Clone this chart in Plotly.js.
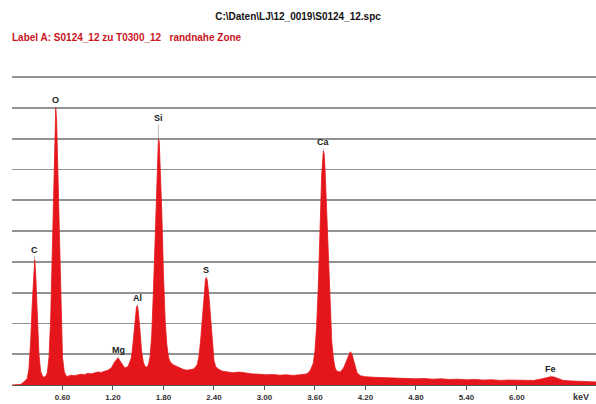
<!DOCTYPE html>
<html>
<head>
<meta charset="utf-8">
<script src="https://cdn.plot.ly/plotly-3.0.1.min.js"></script>
<style>html,body{margin:0;padding:0;background:#fff;}#chart{width:596px;height:404px;}</style>
</head>
<body>
<div id="chart"></div>
<script>
// Spectrum (energy in keV, counts in grid units)
const energyKeV = [0.00,0.05,0.10,0.12,0.15,0.18,0.20,0.22,0.24,0.26,0.27,0.28,0.30,0.32,0.34,0.36,0.38,0.40,
  0.42,0.44,0.46,0.48,0.50,0.52,0.53,0.54,0.56,0.58,0.60,0.62,0.64,0.66,0.70,0.74,0.78,0.82,0.86,0.90,0.94,0.98,
  1.02,1.06,1.10,1.14,1.18,1.22,1.26,1.30,1.34,1.38,1.42,1.44,1.46,1.48,1.49,1.50,1.52,1.54,1.56,1.58,1.60,1.62,
  1.64,1.66,1.68,1.70,1.72,1.74,1.75,1.76,1.78,1.80,1.82,1.84,1.86,1.88,1.92,1.96,2.00,2.04,2.08,2.12,2.16,2.20,
  2.22,2.24,2.26,2.28,2.30,2.31,2.32,2.34,2.36,2.38,2.40,2.42,2.46,2.50,2.56,2.62,2.70,2.78,2.86,2.94,3.02,3.10,
  3.18,3.26,3.34,3.42,3.50,3.54,3.58,3.60,3.62,3.64,3.66,3.68,3.70,3.71,3.72,3.74,3.76,3.78,3.80,3.82,3.84,3.86,
  3.90,3.94,3.97,4.00,4.02,4.04,4.06,4.08,4.10,4.14,4.20,4.30,4.40,4.50,4.60,4.70,4.80,4.90,5.00,5.10,5.20,5.30,
  5.40,5.50,5.60,5.70,5.80,5.90,6.00,6.10,6.20,6.30,6.36,6.40,6.44,6.48,6.55,6.65,6.75,6.85,6.94];
const counts = [0.00,0.00,0.02,0.05,0.12,0.20,0.50,1.30,2.60,3.80,4.07,3.70,2.30,1.00,0.45,0.30,0.25,0.28,
  0.40,0.90,2.20,4.50,7.20,9.00,8.60,7.50,4.80,2.20,0.90,0.45,0.30,0.28,0.32,0.30,0.33,0.35,0.33,0.38,0.36,0.40,
  0.42,0.41,0.45,0.48,0.55,0.75,0.88,0.70,0.55,0.60,0.90,1.40,2.10,2.55,2.57,2.40,1.80,1.10,0.75,0.60,0.58,0.65,
  0.90,1.60,3.00,4.80,6.60,7.98,7.90,7.30,5.60,3.60,2.10,1.30,0.90,0.75,0.65,0.60,0.55,0.50,0.48,0.50,0.52,0.65,
  0.90,1.40,2.20,3.00,3.45,3.48,3.40,2.90,2.10,1.30,0.80,0.60,0.50,0.45,0.43,0.40,0.42,0.38,0.36,0.35,0.33,0.34,
  0.32,0.33,0.31,0.33,0.36,0.45,0.70,1.10,1.90,3.20,5.00,6.80,7.60,7.50,7.00,5.60,3.90,2.40,1.40,0.85,0.55,0.45,
  0.42,0.55,0.75,1.00,1.08,1.00,0.80,0.55,0.40,0.30,0.27,0.25,0.24,0.22,0.23,0.21,0.20,0.21,0.19,0.20,0.18,0.19,
  0.17,0.18,0.16,0.17,0.15,0.16,0.15,0.14,0.15,0.20,0.24,0.27,0.26,0.22,0.15,0.13,0.12,0.11,0.10];

// Peak labels
const elements = ['C','O','Mg','Al','Si','S','Ca','Fe'];
const elementKeV = [0.27,0.52,1.26,1.49,1.74,2.31,3.70,6.40];
const elementCounts = [4.07,9.00,0.88,2.57,7.98,3.48,7.60,0.27];
const labelOffsetPx = [-10,-8,-8,-8,-21,-8,-9,-8];

// Axis ticks
const tickValues = [0.6,1.2,1.8,2.4,3.0,3.6,4.2,4.8,5.4,6.0];
const tickLabels = ['0.60','1.20','1.80','2.40','3.00','3.60','4.20','4.80','5.40','6.00'];
const gridValues = [1,2,3,4,5,6,7,8,9,10];

const FONT = 'Liberation Sans Narrow, Arial Narrow, Liberation Sans, Arial, sans-serif';

const trace = {
  x: energyKeV, y: counts, type: 'scatter', mode: 'lines',
  line: {color: '#e5161b', width: 0.8, shape: 'linear'},
  fill: 'tozeroy', fillcolor: '#e5161b', hoverinfo: 'skip'
};

const annotations = elements.map((el, i) => ({
  x: elementKeV[i], y: elementCounts[i], xref: 'x', yref: 'y',
  text: '<b>' + el + '</b>', showarrow: true, arrowhead: 0, arrowwidth: 0.6, arrowcolor: '#888',
  ax: 0, ay: labelOffsetPx[i], font: {family: FONT, size: 9, color: '#222'}
}));
annotations.push({
  xref: 'paper', yref: 'paper', x: -0.003, y: 1.117, xanchor: 'left', yanchor: 'middle',
  text: '<b>Label A: S0124_12 zu T0300_12\u00a0\u00a0\u00a0randnahe Zone</b>', showarrow: false,
  font: {family: FONT, size: 10, color: '#c8141c'}
});
annotations.push({
  xref: 'paper', yref: 'paper', x: 0.974, y: 0, yshift: -12, xanchor: 'center', yanchor: 'middle',
  text: '<b>keV</b>', showarrow: false, font: {family: FONT, size: 9, color: '#333'}
});

const layout = {
  width: 596, height: 404,
  margin: {l: 12, r: 0, t: 74, b: 19, pad: 0},
  paper_bgcolor: '#fff', plot_bgcolor: '#fff',
  showlegend: false,
  title: {
    text: '<b>C:\\Daten\\LJ\\12_0019\\S0124_12.spc</b>',
    xref: 'container', yref: 'container', x: 0.5, y: 0.958, xanchor: 'center', yanchor: 'middle',
    font: {family: FONT, size: 10, color: '#111'}
  },
  xaxis: {
    range: [0, 6.94], showgrid: false, zeroline: false,
    showline: true, linecolor: '#555', linewidth: 1,
    ticks: 'outside', ticklen: 4, tickwidth: 1, tickcolor: '#555',
    tickmode: 'array', tickvals: tickValues, ticktext: tickLabels.map(t => '<b>' + t + '</b>'),
    tickfont: {family: FONT, size: 8, color: '#333'}, fixedrange: true
  },
  yaxis: {
    range: [0, 10.1], tickmode: 'array', tickvals: gridValues, showgrid: true, gridcolor: '#929292', gridwidth: 1.8,
    zeroline: false, showticklabels: false, ticks: '', showline: false, fixedrange: true
  },
  annotations: annotations
};

Plotly.newPlot('chart', [trace], layout, {displayModeBar: false, staticPlot: true});
</script>
</body>
</html>
